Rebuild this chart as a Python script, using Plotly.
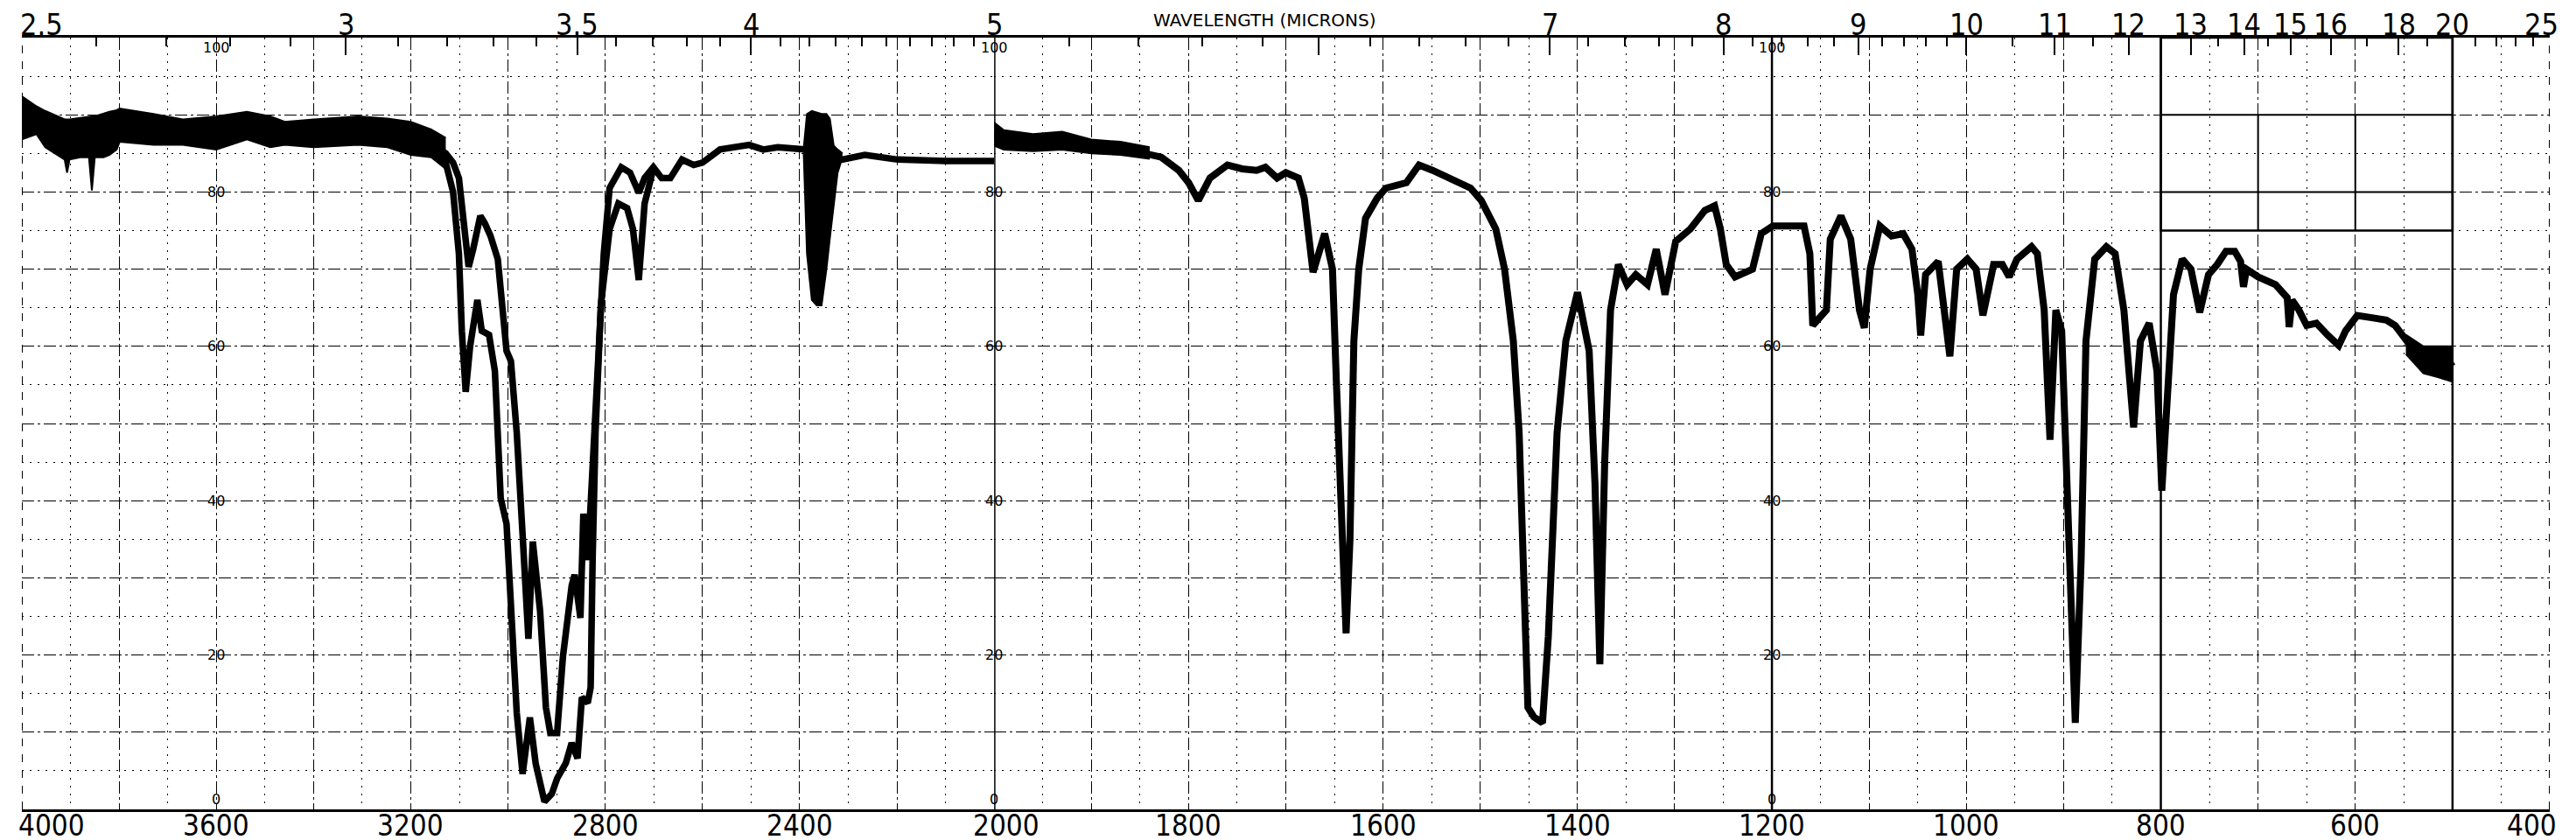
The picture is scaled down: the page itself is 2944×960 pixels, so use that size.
import plotly.graph_objects as go

# ---------------- data (wavenumber cm-1, % transmittance) ----------------
# Panel A (4000-2000 cm-1): upper trace
wn_a = [4000, 3970, 3952, 3910, 3880, 3850, 3820, 3800, 3729, 3669,
        3600, 3537, 3489, 3459, 3400, 3308, 3248, 3200, 3158, 3128,
        3113, 3101, 3092, 3087, 3081, 3072, 3057, 3048, 3036, 3021,
        3012, 3003, 2994, 2982, 2970, 2958, 2949, 2934, 2922, 2913, 2899,
        2887, 2869, 2863, 2851, 2845, 2836, 2827, 2818, 2803, 2791,
        2767, 2749, 2731, 2719, 2701, 2684, 2666, 2642, 2618, 2600, 2564,
        2504, 2475, 2445, 2403, 2385, 2355, 2313, 2266, 2198, 2100, 2000]
t_a = [89.6, 89.3, 88.4, 87.2, 87.2, 87.5, 87.8, 88.6, 88.1, 87.8,
       87.6, 88.6, 87.8, 87.6, 87.6, 88.0, 87.6, 87.0, 86.3, 85.0,
       83.8, 81.8, 77.0, 72.6, 70.3, 72.5, 76.9, 76.0, 74.3, 71.3,
       64.7, 59.4, 58.1, 48.8, 35.6, 22.1, 34.7, 25.7, 13.2, 9.9, 9.9,
       19.8, 29.0, 30.4, 24.8, 38.3, 32.3, 42.2, 55.4, 72.0, 80.5,
       83.2, 82.5, 79.9, 81.8, 83.2, 81.8, 81.8, 84.2, 83.5, 83.8, 85.5,
       86.1, 85.5, 85.8, 85.5, 85.5, 84.5, 84.2, 84.8, 84.2, 84.0, 84.0]

# Panel A: second (deeper) trace in the C-H stretch region
wn_b = [3161, 3131, 3113, 3101, 3095, 3087, 3078, 3063, 3054, 3039,
        3027, 3015, 3003, 2991, 2982, 2970, 2955, 2943, 2925, 2910,
        2899, 2881, 2869, 2857, 2848, 2836, 2830, 2826, 2820, 2809,
        2791, 2773, 2755, 2743, 2731, 2719, 2701]
t_b = [86.0, 84.5, 80.0, 72.0, 62.0, 54.1, 60.0, 66.0, 62.0, 61.5,
       56.8, 40.3, 37.0, 22.4, 12.5, 4.6, 11.9, 5.9, 1.0, 2.0,
       4.0, 6.0, 8.6, 6.6, 14.5, 13.8, 15.8, 32.3, 48.8, 65.3,
       75.2, 78.5, 77.9, 75.2, 68.6, 78.5, 83.0]

# Panel A: noise band 4000-3130 (upper / lower edges)
wn_na = [4000, 3970, 3952, 3912, 3907, 3902, 3880, 3862, 3856, 3850,
         3832, 3820, 3805, 3799, 3729, 3669, 3600, 3537, 3489, 3459,
         3400, 3308, 3248, 3200, 3158, 3128]
hi_na = [92.4, 91.1, 90.5, 89.4, 89.4, 89.4, 89.6, 89.8, 89.8, 89.8,
         90.2, 90.4, 90.6, 90.8, 90.1, 89.4, 89.8, 90.4, 89.8, 89.1,
         89.4, 89.8, 89.5, 89.1, 88.1, 87.0]
lo_na = [86.8, 87.5, 85.8, 84.2, 82.5, 84.2, 84.5, 84.5, 80.2, 84.5,
         84.5, 84.8, 85.5, 86.5, 86.1, 86.1, 85.5, 86.8, 85.8, 86.1,
         85.8, 86.1, 85.8, 84.8, 84.5, 83.0]

# Panel A: CO2 noise burst
wn_co2 = [2392, 2385, 2375, 2365, 2355, 2345, 2338, 2330, 2322, 2312]
hi_co2 = [85.5, 90.1, 90.5, 90.3, 90.1, 90.1, 89.5, 86.0, 85.5, 85.0]
lo_co2 = [85.5, 72.0, 66.0, 65.3, 65.3, 70.0, 74.0, 78.0, 82.5, 84.5]

# Panel B (2000-400 cm-1): main trace
wn_c = [2000, 1990, 1969, 1954, 1930, 1900, 1879, 1849, 1828, 1810,
        1800, 1790, 1778, 1760, 1745, 1730, 1721, 1709, 1700, 1687,
        1681, 1676, 1672, 1660, 1652, 1648, 1643, 1638, 1634, 1630,
        1625, 1618, 1606, 1597, 1576, 1563, 1549, 1531, 1510, 1499,
        1484, 1475, 1466, 1460, 1454, 1451, 1445, 1436, 1430, 1421,
        1412, 1400, 1388, 1382, 1377, 1372, 1366, 1358, 1349, 1340,
        1328, 1319, 1310, 1299, 1284, 1269, 1259, 1253, 1247, 1238,
        1220, 1211, 1199, 1167, 1161, 1158, 1149, 1144, 1140, 1129,
        1119, 1110, 1105, 1099, 1089, 1077, 1065, 1056, 1050, 1047,
        1042, 1029, 1017, 1010, 999, 990, 983, 972, 963, 956,
        948, 933, 927, 920, 914, 908, 902, 897, 888, 882,
        877, 868, 856, 847, 838, 828, 821, 812, 804, 799,
        793, 787, 778, 769, 760, 751, 742, 733, 724, 718,
        715, 712, 700, 682, 670, 668, 665, 658, 650, 640,
        628, 617, 610, 598, 583, 568, 559, 547, 538, 523,
        508, 500]
t_c = [87.5, 86.8, 86.1, 86.5, 86.8, 85.8, 85.6, 85.1, 84.5, 82.8,
       81.2, 78.9, 81.8, 83.5, 83.0, 82.8, 83.2, 81.8, 82.5, 81.8,
       79.2, 72.6, 69.6, 74.6, 70.0, 55.4, 35.6, 22.8, 35.0, 60.7,
       70.0, 76.6, 79.2, 80.5, 81.2, 83.5, 82.8, 81.8, 80.5, 78.9,
       75.2, 70.0, 60.7, 48.8, 25.7, 13.2, 12.0, 11.2, 22.4, 48.8,
       60.7, 67.0, 59.4, 42.2, 18.8, 45.0, 64.7, 70.6, 68.0, 69.3,
       68.0, 72.6, 66.7, 73.6, 75.2, 77.6, 78.2, 75.2, 70.6, 69.0,
       70.0, 74.6, 75.6, 75.6, 72.0, 62.7, 64.0, 64.7, 73.9, 76.9,
       73.9, 64.7, 62.4, 70.0, 75.6, 74.3, 74.6, 72.6, 66.7, 61.4,
       69.3, 71.0, 58.7, 70.0, 71.3, 70.0, 64.0, 70.6, 70.6, 69.0,
       71.3, 72.9, 72.0, 64.7, 47.9, 64.7, 62.0, 42.2, 11.2, 32.3,
       60.7, 71.3, 72.9, 72.0, 64.7, 49.5, 60.7, 63.0, 56.8, 41.3,
       55.4, 66.7, 71.3, 70.0, 64.4, 69.3, 70.6, 72.3, 72.3, 71.0,
       67.7, 70.0, 69.0, 68.0, 66.3, 62.5, 66.0, 64.7, 62.7, 63.0,
       61.4, 60.1, 62.0, 64.0, 63.7, 63.4, 62.7, 60.7, 58.7, 57.8,
       58.7, 57.4]

# Panel B: noisy stretches
wn_nc = [2000, 1990, 1960, 1930, 1900, 1870, 1840]
hi_nc = [89.0, 88.0, 87.5, 87.8, 86.8, 86.5, 85.8]
lo_nc = [86.0, 85.5, 85.3, 85.5, 85.0, 84.8, 84.3]
wn_ne = [548, 530, 515, 500]
hi_ne = [61.5, 60.0, 60.0, 60.0]
lo_ne = [59.0, 56.5, 56.0, 55.4]

# axis labels
bottom_a = [4000, 3600, 3200, 2800, 2400]
bottom_b = [2000, 1800, 1600, 1400, 1200, 1000, 800, 600, 400]
micron_a = [2.5, 3, 3.5, 4]
micron_a_text = ["2.5", "3", "3.5", "4"]
micron_b = [5, 6, 7, 8, 9, 10, 11, 12, 13, 14, 15, 16, 18, 20, 25]
micron_b_text = ["5", "", "7", "8", "9", "10", "11", "12", "13", "14", "15", "16", "18", "20", "25"]
micron_minor_a = [2.6, 2.7, 2.8, 2.9, 3.1, 3.2, 3.3, 3.4, 3.6, 3.7, 3.8, 3.9,
                  4.1, 4.2, 4.3, 4.4, 4.5, 4.6, 4.7, 4.8, 4.9]
micron_minor_b = [5.2, 5.4, 5.6, 5.8, 6.2, 6.4, 6.6, 6.8, 7.2, 7.4, 7.6, 7.8,
                  8.2, 8.4, 8.6, 8.8, 9.2, 9.4, 9.6, 9.8, 10.5, 11.5, 12.5,
                  13.5, 14.5, 17, 19, 21, 22, 23, 24]
pct_labels = [0, 20, 40, 60, 80, 100]
pct_label_pos = [("x", 3600), ("x2", 2000), ("x2", 1200)]
axis_title = "WAVELENGTH (MICRONS)"

# ---------------- figure ----------------
BLACK = "#000000"
NUM_FONT = "Liberation Sans Narrow, DejaVu Sans Condensed, Arial Narrow, sans-serif"
MAJ_DASH = "14px,4px,3px,4px"
MIN_DASH = "2px,7px"

fig = go.Figure()


def band(xs, lo, hi, xa):
    fig.add_trace(go.Scatter(x=xs, y=lo, xaxis=xa, yaxis="y", mode="lines",
                             line=dict(width=2, color=BLACK), hoverinfo="skip"))
    fig.add_trace(go.Scatter(x=xs, y=hi, xaxis=xa, yaxis="y", mode="lines",
                             line=dict(width=2, color=BLACK), fill="tonexty",
                             fillcolor=BLACK, hoverinfo="skip"))


band(wn_na, lo_na, hi_na, "x")
band(wn_co2, lo_co2, hi_co2, "x")
band(wn_nc, lo_nc, hi_nc, "x2")
band(wn_ne, lo_ne, hi_ne, "x2")

fig.add_trace(go.Scatter(x=wn_a, y=t_a, xaxis="x", yaxis="y", mode="lines",
                         line=dict(width=7.5, color=BLACK)))
fig.add_trace(go.Scatter(x=wn_b, y=t_b, xaxis="x", yaxis="y", mode="lines",
                         line=dict(width=7.5, color=BLACK)))
fig.add_trace(go.Scatter(x=wn_c, y=t_c, xaxis="x2", yaxis="y", mode="lines",
                         line=dict(width=8, color=BLACK)))
# carriers for the top (micron) axes
fig.add_trace(go.Scatter(x=[None], y=[None], xaxis="x3", yaxis="y", mode="lines"))
fig.add_trace(go.Scatter(x=[None], y=[None], xaxis="x4", yaxis="y", mode="lines"))

d1 = 1000 / 2600

grid_x = dict(showticklabels=False, ticks="", tick0=0, showgrid=True,
              gridcolor=BLACK, gridwidth=1.3, griddash=MAJ_DASH, zeroline=False,
              showline=True, linecolor=BLACK, linewidth=2.5, anchor="y",
              automargin=False)


def top_axis(over, rng, dom, vals, minor_vals):
    return dict(overlaying=over, side="top", anchor="y", range=rng, domain=dom,
                tickmode="array", tickvals=[10000 / v for v in vals],
                showticklabels=False,
                ticks="inside", ticklen=20, tickwidth=2, tickcolor=BLACK,
                showgrid=False, zeroline=False, showline=True, linecolor=BLACK,
                linewidth=2.5, automargin=False,
                minor=dict(tickmode="array", tickvals=[10000 / v for v in minor_vals],
                           ticks="inside", ticklen=10, tickwidth=1.5,
                           tickcolor=BLACK, showgrid=False))


fig.update_layout(
    width=2944, height=960, autosize=False,
    margin=dict(l=17, r=38, t=35, b=43, autoexpand=False),
    paper_bgcolor="white", plot_bgcolor="white", showlegend=False,
    xaxis=dict(domain=[0, d1], range=[4000, 2000], dtick=200,
               minor=dict(tick0=0, dtick=100, showgrid=True, gridcolor=BLACK,
                          gridwidth=1, griddash=MIN_DASH), **grid_x),
    xaxis2=dict(domain=[d1, 1], range=[2000, 400], dtick=100,
                minor=dict(tick0=0, dtick=50, showgrid=True, gridcolor=BLACK,
                           gridwidth=1, griddash=MIN_DASH), **grid_x),
    xaxis3=top_axis("x", [4000, 2000], [0, d1], micron_a, micron_minor_a),
    xaxis4=top_axis("x2", [2000, 400], [d1, 1], micron_b, micron_minor_b),
    yaxis=dict(domain=[0, 1], range=[0, 100], anchor="x", showticklabels=False,
               ticks="", tick0=0, dtick=10, showgrid=True, gridcolor=BLACK,
               gridwidth=1.3, griddash=MAJ_DASH, zeroline=False, showline=False,
               automargin=False,
               minor=dict(tick0=0, dtick=5, showgrid=True, gridcolor=BLACK,
                          gridwidth=1, griddash=MIN_DASH)),
)

# frame / paper rulings
shapes = []
for xv, w, dash in [(2000, 3, "solid"), (1200, 2.5, "solid"), (800, 2.5, "solid"),
                    (500, 2.5, "solid"), (400, 2, "dash")]:
    shapes.append(dict(type="line", xref="x2", yref="y", x0=xv, x1=xv, y0=0, y1=100,
                       line=dict(color=BLACK, width=w, dash=dash)))
shapes.append(dict(type="line", xref="x", yref="y", x0=4000, x1=4000, y0=0, y1=100,
                   line=dict(color=BLACK, width=2, dash="dash")))
shapes.append(dict(type="rect", xref="x2", yref="y", x0=800, x1=500, y0=75, y1=100,
                   line=dict(color=BLACK, width=2.5)))
for yv in [90, 80]:
    shapes.append(dict(type="line", xref="x2", yref="y", x0=800, x1=500, y0=yv, y1=yv,
                       line=dict(color=BLACK, width=2)))
for xv in [700, 600]:
    shapes.append(dict(type="line", xref="x2", yref="y", x0=xv, x1=xv, y0=75, y1=90,
                       line=dict(color=BLACK, width=2)))
fig.update_layout(shapes=shapes)

ann = []
LBL = dict(family=NUM_FONT, size=33, color=BLACK)
TOP = dict(family=NUM_FONT, size=34, color=BLACK)
for v in bottom_a:
    if v == 4000:
        ann.append(dict(x=v, xref="x", y=0, yref="paper", text=str(v), showarrow=False,
                        xanchor="left", yanchor="top", xshift=-6, yshift=3, font=LBL))
    else:
        ann.append(dict(x=v, xref="x", y=0, yref="paper", text=str(v), showarrow=False,
                        xanchor="center", yanchor="top", yshift=3, font=LBL))
for v in bottom_b:
    xa, xs = "center", 0
    if v == 400:
        xa, xs = "right", 10
    if v == 2000:
        xs = 14
    ann.append(dict(x=v, xref="x2", y=0, yref="paper", text=str(v), showarrow=False,
                    xanchor=xa, yanchor="top", xshift=xs, yshift=3, font=LBL))
# micron labels along the top
for v, s in zip(micron_a, micron_a_text):
    xa, xs = "center", 0
    if v == 2.5:
        xa, xs = "left", -4
    ann.append(dict(x=10000 / v, xref="x", y=1, yref="paper", text=s, showarrow=False,
                    xanchor=xa, yanchor="bottom", xshift=xs, yshift=-7, font=TOP))
for v, s in zip(micron_b, micron_b_text):
    if not s:
        continue
    xa, xs = "center", 0
    if v == 25:
        xa, xs = "right", 12
    ann.append(dict(x=10000 / v, xref="x2", y=1, yref="paper", text=s, showarrow=False,
                    xanchor=xa, yanchor="bottom", xshift=xs, yshift=-7, font=TOP))
for xr, xv in pct_label_pos:
    for p in pct_labels:
        ya = "middle"
        if p == 100:
            ya = "top"
        if p == 0:
            ya = "bottom"
        ann.append(dict(x=xv, xref=xr, y=p, yref="y", text=str(p), showarrow=False,
                        xanchor="center", yanchor=ya,
                        font=dict(family="DejaVu Sans", size=16, color=BLACK)))
ann.append(dict(x=1722, xref="x2", y=1, yref="paper", text=axis_title,
                showarrow=False, xanchor="center", yanchor="bottom", yshift=6,
                font=dict(family="DejaVu Sans", size=20, color=BLACK)))
fig.update_layout(annotations=ann)

fig.write_html("out.html")
